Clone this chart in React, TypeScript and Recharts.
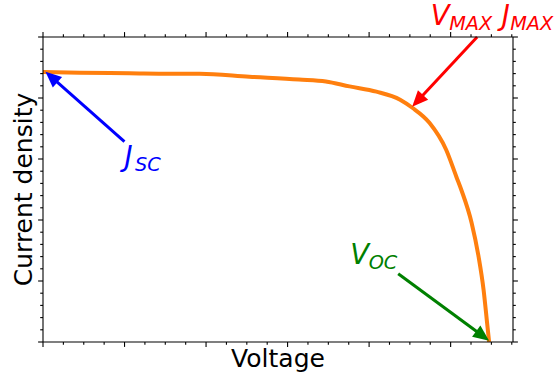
import React from 'react';
import { LineChart, Line, XAxis, YAxis, ReferenceLine, ReferenceDot } from 'recharts';

// J–V curve of the solar cell (voltage in V, current density in mA/cm²)
const voltage = [
  0, 0.045, 0.106, 0.155, 0.192, 0.253, 0.314, 0.347, 0.376, 0.409, 0.438,
  0.453, 0.474, 0.4945, 0.507, 0.5135, 0.5257, 0.5343, 0.5404, 0.5447, 0.5472,
];
const currentDensity = [
  22.13, 22.07, 22.03, 21.99, 21.99, 21.75, 21.52, 21.36, 20.95, 20.52, 19.86,
  19.2, 17.97, 15.76, 13.55, 12.4, 9.78, 6.99, 4.29, 1.58, 0,
];

// Axis ranges and tick positions
const voltageDomain = [0, 0.5765];
const currentDomain = [0, 25];
const voltageTicks = [
  0, 0.025, 0.05, 0.075, 0.1, 0.125, 0.15, 0.175, 0.2, 0.225, 0.25, 0.275,
  0.3, 0.325, 0.35, 0.375, 0.4, 0.425, 0.45, 0.475, 0.5, 0.525, 0.55, 0.575,
];
const voltageMajorStep = 0.1;
const currentTicks = [
  0, 1, 2, 3, 4, 5, 6, 7, 8, 9, 10, 11, 12, 13, 14, 15, 16, 17, 18, 19, 20,
  21, 22, 23, 24, 25,
];
const currentMajorStep = 5;

// Annotations: [voltage, current] of arrow tail and tip, and label anchor
const jscArrow = [[0.0999, 16.43], [0.003, 22.16]];
const jscLabelAt = [0.0999, 14.45];
const jscText = [['J', ''], ['SC', 'sub']];

const mppArrow = [[0.5325, 25.0], [0.4528, 19.29]];
const mppLabelAt = [0.4755, 26.0];
const mppText = [['V', ''], ['MAX', 'sub'], ['J', ''], ['MAX', 'sub']];

const vocArrow = [[0.4357, 5.6], [0.5472, 0.11]];
const vocLabelAt = [0.3768, 6.42];
const vocText = [['V', ''], ['OC', 'sub']];

const xLabel = 'Voltage';
const yLabel = 'Current density';

const data = voltage.map((v, i) => ({ v, j: currentDensity[i] }));

const FONT = '"DejaVu Sans", sans-serif';
const MAIN_SIZE = 27.5;
const SUB_SIZE = 19.3;

type Side = 'bottom' | 'top' | 'left' | 'right';

const makeTick = (side: Side, majorStep: number) => (props: any) => {
  const { x, y, payload } = props;
  const v = payload.value as number;
  const r = v / majorStep;
  const major = Math.abs(r - Math.round(r)) < 1e-6;
  const len = major ? 4.9 : 2.8;
  let x2 = x;
  let y2 = y;
  if (side === 'bottom') y2 = y + len;
  if (side === 'top') y2 = y - len;
  if (side === 'left') x2 = x - len;
  if (side === 'right') x2 = x + len;
  return <line x1={x} y1={y} x2={x2} y2={y2} stroke="#000" strokeWidth={1.1} />;
};

const arrowShape = (color: string) => (props: any) => {
  const { x1, y1, x2, y2 } = props;
  const dx = x2 - x1;
  const dy = y2 - y1;
  const L = Math.hypot(dx, dy) || 1;
  const ux = dx / L;
  const uy = dy / L;
  const headLen = 16;
  const headHalf = 7;
  const bx = x2 - ux * headLen;
  const by = y2 - uy * headLen;
  const px = -uy;
  const py = ux;
  return (
    <g>
      <line x1={x1} y1={y1} x2={bx + ux} y2={by + uy} stroke={color} strokeWidth={3} />
      <polygon
        points={`${x2},${y2} ${bx + px * headHalf},${by + py * headHalf} ${bx - px * headHalf},${by - py * headHalf}`}
        fill={color}
      />
    </g>
  );
};

// Horizontal offsets of each part of the math-style labels
const partOffsets: Record<string, number[]> = {
  jsc: [0, 10.5],
  mpp: [0, 18.5, 71, 79.5],
  voc: [0, 18.5],
};

const mathLabel = (parts: string[][], offsets: number[], color: string) => (props: any) => {
  const { cx, cy } = props;
  return (
    <text fill={color} fontFamily={FONT} fontStyle="italic">
      {parts.map(([t, kind], i) => (
        <tspan
          key={i}
          x={cx + offsets[i]}
          y={cy + (kind === 'sub' ? 5 : 0)}
          fontSize={kind === 'sub' ? SUB_SIZE : MAIN_SIZE}
        >
          {t}
        </tspan>
      ))}
    </text>
  );
};

const XTitle = (props: any) => {
  const vb = props.viewBox;
  return (
    <text
      x={vb.x + vb.width / 2}
      y={vb.y + 25}
      textAnchor="middle"
      fontFamily={FONT}
      fontSize={25}
      fill="#000"
    >
      {xLabel}
    </text>
  );
};

const YTitle = (props: any) => {
  const vb = props.viewBox;
  const cx = vb.x + vb.width - 11;
  const cy = vb.y + vb.height / 2;
  return (
    <text
      x={cx}
      y={cy}
      transform={`rotate(-90, ${cx}, ${cy})`}
      textAnchor="middle"
      fontFamily={FONT}
      fontSize={25}
      fill="#000"
    >
      {yLabel}
    </text>
  );
};

const axisLine = { stroke: '#000', strokeWidth: 1.1 };

export default function App() {
  return (
    <div style={{ position: 'absolute', left: 0, top: 0, background: '#fff' }}>
      <LineChart
        width={556}
        height={378}
        data={data}
        margin={{ top: 36, right: 42, bottom: 35, left: 42 }}
      >
        <XAxis
          xAxisId="bottom"
          dataKey="v"
          type="number"
          domain={voltageDomain}
          allowDataOverflow
          ticks={voltageTicks}
          interval={0}
          height={1}
          tickSize={0}
          tickMargin={0}
          tickLine={false}
          axisLine={axisLine}
          tick={makeTick('bottom', voltageMajorStep)}
          label={XTitle}
        />
        <XAxis
          xAxisId="top"
          orientation="top"
          dataKey="v"
          type="number"
          domain={voltageDomain}
          allowDataOverflow
          ticks={voltageTicks}
          interval={0}
          height={1}
          tickSize={0}
          tickMargin={0}
          tickLine={false}
          axisLine={axisLine}
          tick={makeTick('top', voltageMajorStep)}
        />
        <YAxis
          yAxisId="left"
          type="number"
          domain={currentDomain}
          allowDataOverflow
          ticks={currentTicks}
          interval={0}
          width={1}
          tickSize={0}
          tickMargin={0}
          tickLine={false}
          axisLine={axisLine}
          tick={makeTick('left', currentMajorStep)}
          label={YTitle}
        />
        <YAxis
          yAxisId="right"
          orientation="right"
          type="number"
          domain={currentDomain}
          allowDataOverflow
          ticks={currentTicks}
          interval={0}
          width={1}
          tickSize={0}
          tickMargin={0}
          tickLine={false}
          axisLine={axisLine}
          tick={makeTick('right', currentMajorStep)}
        />
        <Line
          xAxisId="bottom"
          yAxisId="left"
          dataKey="j"
          type="monotone"
          stroke="#ff7f0e"
          strokeWidth={4}
          dot={false}
          isAnimationActive={false}
        />
        <ReferenceLine
          xAxisId="bottom"
          yAxisId="left"
          ifOverflow="visible"
          segment={jscArrow.map(([x, y]) => ({ x, y }))}
          shape={arrowShape('#0000ff')}
        />
        <ReferenceLine
          xAxisId="bottom"
          yAxisId="left"
          ifOverflow="visible"
          segment={mppArrow.map(([x, y]) => ({ x, y }))}
          shape={arrowShape('#ff0000')}
        />
        <ReferenceLine
          xAxisId="bottom"
          yAxisId="left"
          ifOverflow="visible"
          segment={vocArrow.map(([x, y]) => ({ x, y }))}
          shape={arrowShape('#008000')}
        />
        <ReferenceDot
          xAxisId="bottom"
          yAxisId="left"
          ifOverflow="visible"
          x={jscLabelAt[0]}
          y={jscLabelAt[1]}
          r={0}
          shape={mathLabel(jscText, partOffsets.jsc, '#0000ff')}
        />
        <ReferenceDot
          xAxisId="bottom"
          yAxisId="left"
          ifOverflow="visible"
          x={mppLabelAt[0]}
          y={mppLabelAt[1]}
          r={0}
          shape={mathLabel(mppText, partOffsets.mpp, '#ff0000')}
        />
        <ReferenceDot
          xAxisId="bottom"
          yAxisId="left"
          ifOverflow="visible"
          x={vocLabelAt[0]}
          y={vocLabelAt[1]}
          r={0}
          shape={mathLabel(vocText, partOffsets.voc, '#008000')}
        />
      </LineChart>
    </div>
  );
}
